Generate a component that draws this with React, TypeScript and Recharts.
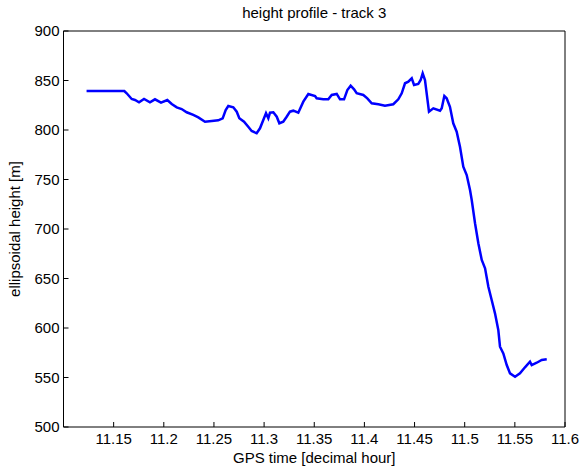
import { LineChart, Line, XAxis, YAxis } from "recharts";

const times = [
  11.123, 11.1606, 11.163, 11.168, 11.1713, 11.1753, 11.1803, 11.1862, 11.1912,
  11.1972, 11.2035, 11.2079, 11.2129, 11.2178, 11.2228, 11.2294, 11.2344,
  11.2411, 11.2478, 11.2543, 11.2587, 11.2617, 11.2643, 11.2693, 11.2727,
  11.2753, 11.28, 11.2842, 11.2876, 11.2926, 11.2959, 11.2992, 11.3019, 11.3042,
  11.3059, 11.3092, 11.3126, 11.3152, 11.3191, 11.3225, 11.3258, 11.3291,
  11.3341, 11.3391, 11.3441, 11.3508, 11.3524, 11.359, 11.364, 11.3674, 11.3724,
  11.3757, 11.3797, 11.383, 11.3863, 11.3897, 11.3923, 11.3989, 11.4029,
  11.4073, 11.4139, 11.4205, 11.4288, 11.4338, 11.4372, 11.4405, 11.4438,
  11.4472, 11.4495, 11.4537, 11.4561, 11.4581, 11.4604, 11.4644, 11.4687,
  11.4754, 11.4771, 11.4797, 11.482, 11.4853, 11.4886, 11.492, 11.4953, 11.4986,
  11.502, 11.5053, 11.507, 11.5103, 11.5136, 11.517, 11.5203, 11.5236, 11.5269,
  11.5302, 11.5335, 11.5352, 11.5385, 11.5419, 11.5452, 11.5502, 11.5551,
  11.5601, 11.5651, 11.5668, 11.5718, 11.5768, 11.5818,
];

const heights = [
  839.4, 839.4, 837.1, 831.3, 830.3, 828.0, 831.3, 828.0, 831.0, 827.6, 830.3,
  826.3, 822.9, 821.2, 817.9, 815.2, 812.8, 808.4, 809.1, 809.8, 811.8, 820.2,
  824.2, 822.9, 818.5, 811.8, 808.4, 803.3, 799.0, 796.7, 801.7, 810.1, 816.9,
  811.8, 817.5, 817.9, 813.4, 806.8, 808.4, 813.4, 818.5, 819.5, 817.5, 828.6,
  836.4, 834.3, 832.0, 831.0, 831.0, 835.4, 836.4, 831.0, 831.0, 840.4, 844.7,
  841.1, 837.1, 835.4, 832.0, 827.0, 826.0, 824.5, 826.0, 831.0, 837.1, 847.2,
  848.8, 852.2, 845.5, 846.5, 850.5, 857.3, 850.5, 818.5, 821.9, 819.5, 821.9,
  834.3, 832.0, 823.5, 806.8, 798.3, 783.1, 762.9, 754.5, 739.4, 729.3, 705.8,
  685.6, 668.7, 660.3, 641.7, 628.3, 614.8, 598.0, 581.1, 574.4, 562.6, 554.2,
  550.8, 554.2, 560.3, 565.9, 562.6, 564.9, 567.7, 568.4,
];

const xTicks = [11.15, 11.2, 11.25, 11.3, 11.35, 11.4, 11.45, 11.5, 11.55, 11.6];
const yTicks = [500, 550, 600, 650, 700, 750, 800, 850, 900];

const data = times.map((t, i) => ({ t, h: heights[i] }));

const font = { fontFamily: "'Liberation Sans', Arial, sans-serif", fontSize: 15, fill: "#000" };

export default function App() {
  return (
    <div style={{ position: "absolute", left: 0, top: 0, width: 581, height: 467, background: "#fff" }}>
      <LineChart width={581} height={467} data={data} margin={{ top: 0, right: 0, bottom: 0, left: 0 }}>
        <XAxis
          xAxisId="bottom"
          dataKey="t"
          type="number"
          domain={[11.1, 11.6]}
          ticks={xTicks}
          height={40}
          tickSize={-5}
          tickMargin={11.3}
          stroke="#000"
          tick={font}
          tickFormatter={(v) => String(v)}
          label={{
            value: "GPS time [decimal hour]",
            position: "insideBottom",
            offset: 4,
            style: font,
          }}
        />
        <XAxis
          xAxisId="top"
          orientation="top"
          dataKey="t"
          type="number"
          domain={[11.1, 11.6]}
          ticks={xTicks}
          height={31}
          tickSize={-5}
          tick={false}
          stroke="#000"
          label={{
            value: "height profile - track 3",
            position: "insideTop",
            offset: 7.7,
            style: font,
          }}
        />
        <YAxis
          yAxisId="left"
          type="number"
          domain={[500, 900]}
          ticks={yTicks}
          width={63.5}
          tickSize={-5}
          tickMargin={9}
          stroke="#000"
          tick={font}
          label={{
            value: "ellipsoidal height [m]",
            angle: -90,
            position: "insideLeft",
            offset: 15,
            style: { ...font, textAnchor: "middle" },
          }}
        />
        <YAxis
          yAxisId="right"
          orientation="right"
          type="number"
          domain={[500, 900]}
          ticks={yTicks}
          width={16}
          tickSize={-5}
          tick={false}
          stroke="#000"
        />
        <Line
          xAxisId="bottom"
          yAxisId="left"
          type="linear"
          dataKey="h"
          stroke="#0000ff"
          strokeWidth={2.5}
          dot={false}
          isAnimationActive={false}
        />
      </LineChart>
    </div>
  );
}
